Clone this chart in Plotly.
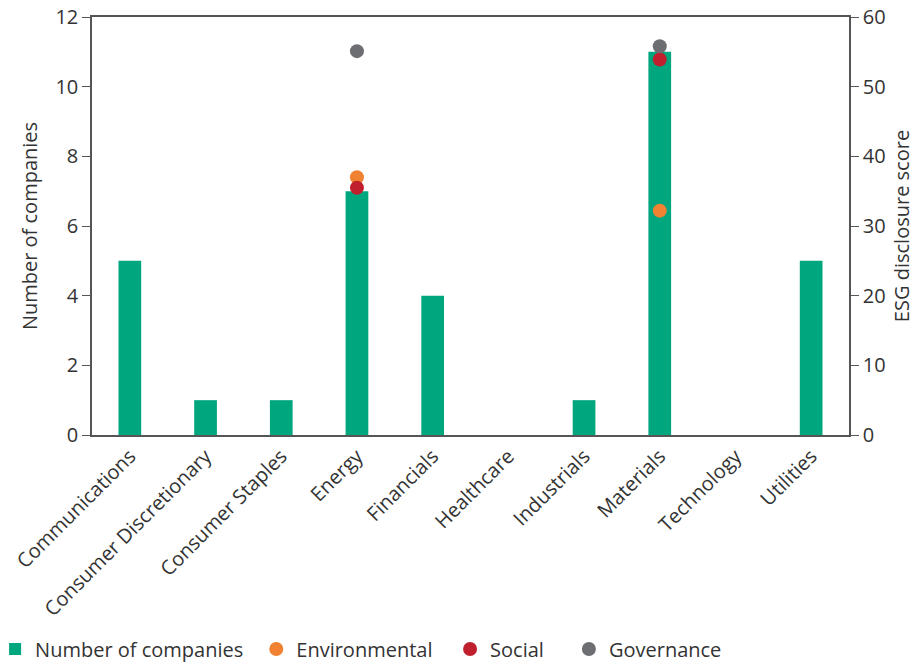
import plotly.graph_objects as go

sectors = ["Communications", "Consumer Discretionary", "Consumer Staples", "Energy",
           "Financials", "Healthcare", "Industrials", "Materials", "Technology", "Utilities"]
companies = [5, 1, 1, 7, 4, 0, 1, 11, 0, 5]
environmental = [None, None, None, 37.0, None, None, None, 32.2, None, None]
social = [None, None, None, 35.5, None, None, None, 53.9, None, None]
governance = [None, None, None, 55.1, None, None, None, 55.8, None, None]

green = "#00a67e"
orange = "#f08232"
red = "#c0202e"
grey = "#6d6e71"
txt = "#333333"
font = "Open Sans"

fig = go.Figure()

fig.add_trace(go.Bar(x=sectors, y=companies, name="Number of companies",
                     marker=dict(color=green, line=dict(width=0)), legend="legend"))

for name, vals, col, lg in [("Environmental", environmental, orange, "legend2"),
                            ("Social", social, red, "legend3"),
                            ("Governance", governance, grey, "legend4")]:
    fig.add_trace(go.Scatter(x=sectors, y=vals, name=name, mode="markers", yaxis="y2",
                             marker=dict(color=col, size=14), legend=lg))

leg = dict(orientation="h", yanchor="middle", xanchor="left", y=-0.512,
           font=dict(family=font, size=20, color=txt), bgcolor="rgba(0,0,0,0)",
           itemwidth=30, tracegroupgap=0)

fig.update_layout(
    width=921, height=662,
    showlegend=True,
    margin=dict(l=84, r=80, t=9, b=235, autoexpand=False),
    plot_bgcolor="white", paper_bgcolor="white",
    font=dict(family=font, size=20, color=txt),
    bargap=0.70,
    xaxis=dict(showline=True, linecolor="#555", linewidth=1.5, mirror=True, automargin=False,
               ticks="", tickangle=-45, tickfont=dict(size=20), range=[-0.5, 9.5]),
    yaxis=dict(range=[0, 12], dtick=2, showgrid=False, showline=True, linecolor="#555",
               linewidth=1.5, ticks="outside", ticklen=8, tickcolor="#555", automargin=False,
               ticklabeloverflow="allow",
               title=dict(text="Number of companies", font=dict(size=20), standoff=12),
               zeroline=False),
    yaxis2=dict(range=[0, 60], dtick=10, overlaying="y", side="right", showgrid=False,
                showline=True, linecolor="#555", linewidth=1.5, ticks="outside", ticklen=8,
                tickcolor="#555", zeroline=False, automargin=False,
                ticklabeloverflow="allow",
                title=dict(text="ESG disclosure score", font=dict(size=20), standoff=10)),
    legend=dict(leg, x=-0.128),
    legend2=dict(leg, x=0.2170),
    legend3=dict(leg, x=0.4730),
    legend4=dict(leg, x=0.6300),
)

fig.write_html("out.html")
